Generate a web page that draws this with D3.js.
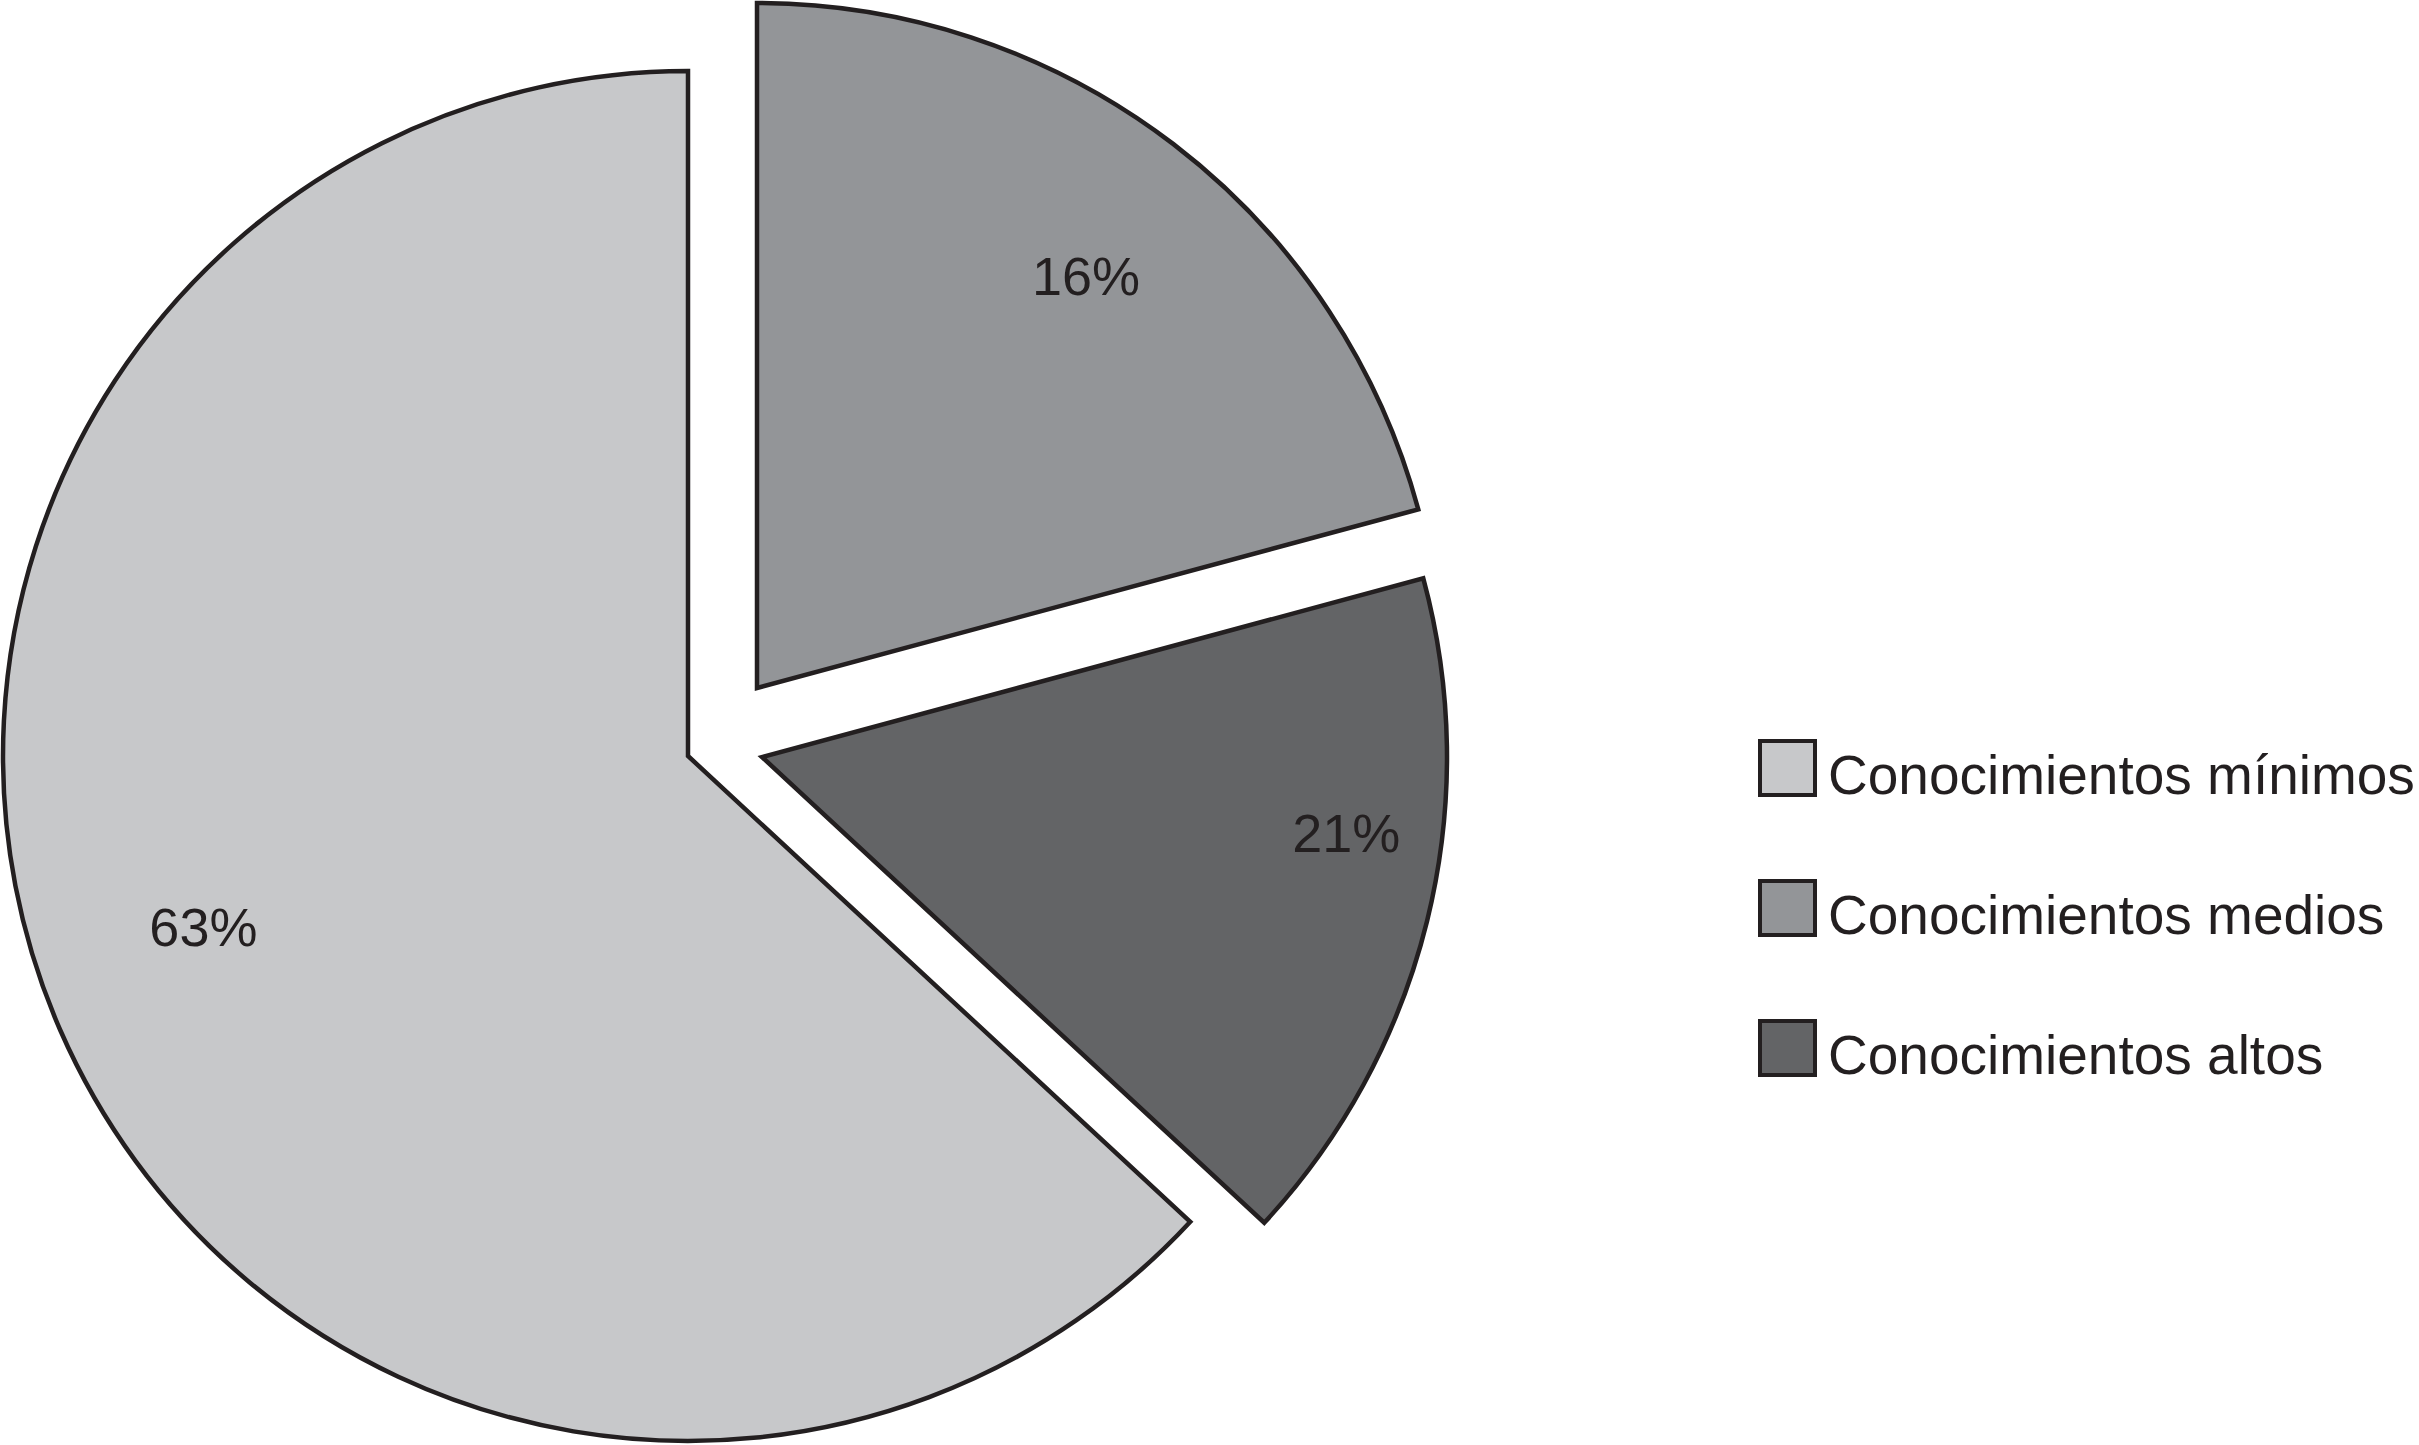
<!DOCTYPE html>
<html>
<head>
<meta charset="utf-8">
<script src="https://cdn.jsdelivr.net/npm/d3@7"></script>
<style>
  body { margin: 0; background: #fff; }
  text { font-family: "Liberation Sans", Arial, sans-serif; fill: #231f20; }
</style>
</head>
<body>
<svg id="svg0"></svg>
<script>
// slices in drawing order, clockwise from 12 o'clock (angular shares)
let categories = ['Conocimientos medios', 'Conocimientos altos', 'Conocimientos mínimos'];
let shares = [20.8, 16.1, 63.1];
let shareLabels = ['16%', '21%', '63%'];
let legendOrder = ['Conocimientos mínimos', 'Conocimientos medios', 'Conocimientos altos'];

let width = 2419;
let height = 1445;
let cx = 688, cy = 756, radius = 685;

let colors = {'Conocimientos mínimos': '#c7c8ca', 'Conocimientos medios': '#939598', 'Conocimientos altos': '#636466'};
// exploded offsets of the two pulled-out slices
let explode = {'Conocimientos mínimos': [0, 0], 'Conocimientos medios': [69, -68], 'Conocimientos altos': [74, 1]};
// label placement: fraction of radius and angle in degrees
let labelPlace = {'Conocimientos mínimos': [0.75, 250.6], 'Conocimientos medios': [0.77, 38.6], 'Conocimientos altos': [0.86, 97.4]};

let svg = d3.select('#svg0').attr('width', width).attr('height', height);

let pie = d3.pie().sort(null).value(d => d.value);
let arc = d3.arc().innerRadius(0).outerRadius(radius);
let slices = pie(categories.map((c, i) => ({name: c, value: shares[i], label: shareLabels[i]})));

let g = svg.append('g').attr('transform', 'translate(' + cx + ',' + cy + ')');

let sliceG = g.selectAll('.slice').data(slices).enter().append('g')
    .attr('class', 'slice')
    .attr('transform', d => 'translate(' + explode[d.data.name][0] + ',' + explode[d.data.name][1] + ')');

sliceG.append('path')
    .attr('d', arc)
    .style('fill', d => colors[d.data.name])
    .style('stroke', '#231f20')
    .style('stroke-width', 4.5)
    .style('stroke-linejoin', 'miter');

// percentage labels
sliceG.append('text')
    .attr('transform', d => {
        let p = labelPlace[d.data.name];
        let a = p[1] * Math.PI / 180;
        let r = p[0] * radius;
        let c = d3.arc().innerRadius(r).outerRadius(r).startAngle(a).endAngle(a).centroid();
        return 'translate(' + c[0] + ',' + c[1] + ')';
    })
    .attr('dy', '0.36em')
    .style('text-anchor', 'middle')
    .style('font-size', '54px')
    .text(d => d.data.label);

// legend
let legendY = d3.scalePoint().domain(legendOrder).range([768, 1048]);

let leg = svg.selectAll('.legend').data(legendOrder).enter().append('g')
    .attr('class', 'legend')
    .attr('transform', d => 'translate(1760,' + legendY(d) + ')');

leg.append('rect')
    .attr('x', 0).attr('y', -27)
    .attr('width', 55).attr('height', 54)
    .style('fill', d => colors[d])
    .style('stroke', '#231f20')
    .style('stroke-width', 4);

leg.append('text')
    .attr('x', 68).attr('y', 26)
    .style('font-size', '55px')
    .text(d => d);
</script>
</body>
</html>
